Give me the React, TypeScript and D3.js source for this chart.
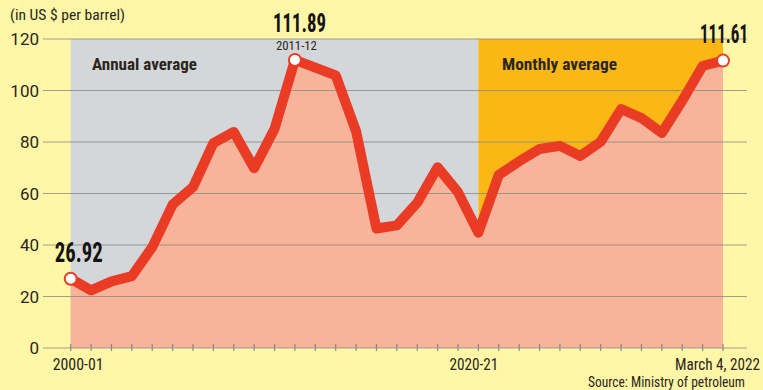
import React from "react";
import * as d3 from "d3";

const annualCats = ["2000-01","2001-02","2002-03","2003-04","2004-05","2005-06","2006-07","2007-08","2008-09","2009-10","2010-11","2011-12","2012-13","2013-14","2014-15","2015-16","2016-17","2017-18","2018-19","2019-20","2020-21"];
const annualVals = [26.92,22.4,25.9,27.9,39.2,55.7,62.5,79.6,83.9,69.8,85.1,111.89,108.9,105.9,84.2,46.4,47.6,56.4,70.2,60.5,44.8];
const monthCats = ["Apr 2021","May 2021","Jun 2021","Jul 2021","Aug 2021","Sep 2021","Oct 2021","Nov 2021","Dec 2021","Jan 2022","Feb 2022","March 4, 2022"];
const monthVals = [67.2,72.5,77.3,78.5,74.6,80.1,92.8,89.3,83.5,96.0,109.5,111.61];
const yTicks = [0,20,40,60,80,100,120];
const xLabels = ["2000-01","2020-21","March 4, 2022"];

const W = 763, H = 390;
const BG = "#FFF6A7", GRAY = "#D4D7D9", ORANGE = "#FBB716", SALMON = "#F8B39B", RED = "#EA3B25", GRID = "#8A8A82";
const FONT = "'Liberation Sans Narrow','Roboto Condensed',Roboto,'DejaVu Sans',sans-serif";

export default function App() {
  const cats = [...annualCats, ...monthCats];
  const data = cats.map((c, i) => ({ c, v: i < annualVals.length ? annualVals[i] : monthVals[i - annualVals.length] }));
  const x = d3.scalePoint<string>().domain(cats).range([70.7, 723]);
  const y = d3.scaleLinear().domain([0, 120]).range([348, 39]);
  const line = d3.line<any>().x(d => x(d.c)!).y(d => y(d.v));
  const area = d3.area<any>().x(d => x(d.c)!).y0(y(0)).y1(d => y(d.v));
  const xStart = x(cats[0])!, xSplit = x(annualCats[annualCats.length - 1])!, xEnd = x(cats[cats.length - 1])!;
  const first = data[0], peak = data[11], last = data[data.length - 1];

  const T = (p: any) => (
    <text x={p.x} y={p.y} fontFamily={FONT} fontSize={p.size} fontWeight={p.weight || 400}
      fill={p.fill || "#2a2620"} textAnchor={p.anchor || "start"}
      textLength={p.w} lengthAdjust="spacingAndGlyphs">{p.children}</text>
  );

  return (
    <svg width={W} height={H} style={{ position: "absolute", left: 0, top: 0, display: "block" }}>
      <rect x={0} y={0} width={W} height={H} fill={BG} />
      <rect x={xStart} y={y(120)} width={xSplit - xStart} height={y(0) - y(120)} fill={GRAY} />
      <rect x={xSplit} y={y(120)} width={xEnd - xSplit} height={y(0) - y(120)} fill={ORANGE} />
      <path d={area(data)!} fill={SALMON} />
      {yTicks.map(t => (
        <g key={t}>
          <line x1={43} x2={747} y1={y(t)} y2={y(t)} stroke={GRID} strokeWidth={1.2} opacity={0.8} />
          <text x={39} y={y(t) + 6} textAnchor="end" fontFamily="Roboto, sans-serif" fontSize={17} fill="#2a2620">{t}</text>
        </g>
      ))}
      {cats.map(c => (
        <line key={c} x1={x(c)} x2={x(c)} y1={y(0) - 4} y2={y(0) + 3} stroke={GRID} strokeWidth={1.2} />
      ))}
      <path d={line(data)!} fill="none" stroke={RED} strokeWidth={10} strokeLinejoin="round" strokeLinecap="round" />
      {[first, peak, last].map(d => (
        <circle key={d.c} cx={x(d.c)} cy={y(d.v)} r={6} fill="#fff" stroke={RED} strokeWidth={2} />
      ))}
      <T x={10} y={20} size={14} w={115}>(in US $ per barrel)</T>
      <T x={92} y={70} size={16} weight={700} w={105}>Annual average</T>
      <T x={502} y={70} size={16} weight={700} w={115}>Monthly average</T>
      <T x={x(peak.c)! - 22} y={32} size={26} weight={700} w={53} fill="#141414">{peak.v.toFixed(2)}</T>
      <T x={x(peak.c)! - 19} y={50} size={13} w={41}>{peak.c}</T>
      <T x={x(first.c)! - 16} y={262} size={27} weight={700} w={48} fill="#141414">{first.v.toFixed(2)}</T>
      <T x={x(last.c)! - 23} y={43} size={25} weight={700} w={48} fill="#141414">{last.v.toFixed(2)}</T>
      <T x={x(xLabels[0])! - 18} y={370} size={17} w={51}>{xLabels[0]}</T>
      <T x={x(xLabels[1])! - 29} y={370} size={17} w={49}>{xLabels[1]}</T>
      <T x={x(xLabels[2])! + 37} y={370} size={17} w={85} anchor="end">{xLabels[2]}</T>
      <T x={745} y={387} size={14} w={157} anchor="end">Source: Ministry of petroleum</T>
    </svg>
  );
}
